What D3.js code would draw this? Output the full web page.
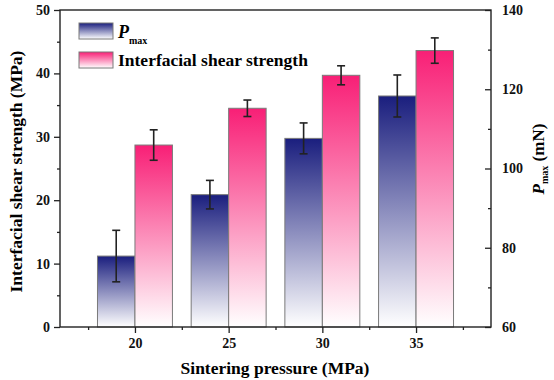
<!DOCTYPE html>
<html>
<head>
<meta charset="utf-8">
<script src="https://cdn.jsdelivr.net/npm/d3@7"></script>
<style>
  body { margin: 0; background: #fff; }
  text { font-family: "Liberation Serif", "Times New Roman", serif; font-weight: bold; }
</style>
</head>
<body>
<svg id="chart" width="554" height="380"></svg>
<script>
// DATA
const pressures = [20, 25, 30, 35];
const shearStrength = [28.7, 34.5, 39.7, 43.6];
const shearErr = [2.4, 1.3, 1.5, 2.0];
const pMax = [77.9, 93.4, 107.6, 118.3];
const pMaxErr = [6.5, 3.6, 3.9, 5.3];
const leftTicks = [0, 10, 20, 30, 40, 50];
const rightTicks = [60, 80, 100, 120, 140];
const xTicks = [20, 25, 30, 35];

const margin = { left: 60, right: 63, top: 10, bottom: 53 };
const W = 554, H = 380;
const svg = d3.select("#chart");

// SCALES
const x = d3.scaleLinear().domain([16, 39]).range([margin.left, W - margin.right]);
const yL = d3.scaleLinear().domain([0, 50]).range([H - margin.bottom, margin.top]);
const yR = d3.scaleLinear().domain([60, 140]).range([H - margin.bottom, margin.top]);
const barW = 2;

// GRADIENTS
const defs = svg.append("defs");
const addGrad = (id, color) => {
  const g = defs.append("linearGradient").attr("id", id)
    .attr("x1", 0).attr("y1", 0).attr("x2", 0).attr("y2", 1);
  g.append("stop").attr("offset", "0%").attr("stop-color", color);
  g.append("stop").attr("offset", "100%").attr("stop-color", "#ffffff");
};
addGrad("gradNavy", "#1a1e7e");
addGrad("gradPink", "#f81f76");

// BARS
const drawBars = (vals, scale, x0, x1, grad) => {
  svg.append("g").selectAll("rect").data(pressures).join("rect")
    .attr("x", (d) => x(d + x0))
    .attr("width", (d) => x(d + x1) - x(d + x0))
    .attr("y", (d, i) => scale(vals[i]))
    .attr("height", (d, i) => scale.range()[0] - scale(vals[i]))
    .attr("fill", `url(#${grad})`)
    .attr("stroke", "#7a7a7a")
    .attr("stroke-width", 1);
};
drawBars(pMax, yR, -barW, 0, "gradNavy");
drawBars(shearStrength, yL, 0, barW, "gradPink");

// ERROR BARS
const drawErr = (vals, errs, scale, off) => {
  const g = svg.append("g").attr("stroke", "#222").attr("stroke-width", 1.6);
  pressures.forEach((p, i) => {
    const cx = x(p + off);
    const top = scale(vals[i] + errs[i]);
    const bot = scale(vals[i] - errs[i]);
    g.append("line").attr("x1", cx).attr("x2", cx).attr("y1", top).attr("y2", bot);
    g.append("line").attr("x1", cx - 4).attr("x2", cx + 4).attr("y1", top).attr("y2", top);
    g.append("line").attr("x1", cx - 4).attr("x2", cx + 4).attr("y1", bot).attr("y2", bot);
  });
};
drawErr(pMax, pMaxErr, yR, -barW / 2);
drawErr(shearStrength, shearErr, yL, barW / 2);

// AXES
const styleAxis = (g) => {
  g.selectAll(".domain").remove();
  g.selectAll("line").attr("stroke", "#222").attr("stroke-width", 1.3);
  g.selectAll("text").attr("font-size", 14).attr("fill", "#111");
};
const bottom = H - margin.bottom;
svg.append("g").attr("transform", `translate(0,${bottom})`)
  .call(d3.axisBottom(x).tickValues(xTicks).tickSize(6).tickPadding(5).tickFormat(d3.format("d")))
  .call(styleAxis);
svg.append("g").attr("transform", `translate(0,${bottom})`)
  .call(d3.axisBottom(x).tickValues([17.5, 22.5, 27.5, 32.5, 37.5]).tickSize(3).tickFormat(""))
  .call(styleAxis);

svg.append("g").attr("transform", `translate(${margin.left},0)`)
  .call(d3.axisLeft(yL).tickValues(leftTicks).tickSize(6).tickPadding(4))
  .call(styleAxis);
svg.append("g").attr("transform", `translate(${margin.left},0)`)
  .call(d3.axisLeft(yL).tickValues([5, 15, 25, 35, 45]).tickSize(3).tickFormat(""))
  .call(styleAxis);

const rx = W - margin.right;
svg.append("g").attr("transform", `translate(${rx},0)`)
  .call(d3.axisRight(yR).tickValues(rightTicks).tickSize(-6).tickPadding(11))
  .call(styleAxis);
svg.append("g").attr("transform", `translate(${rx},0)`)
  .call(d3.axisRight(yR).tickValues([70, 90, 110, 130]).tickSize(-3).tickFormat(""))
  .call(styleAxis);

// FRAME
svg.append("rect")
  .attr("x", margin.left).attr("y", margin.top)
  .attr("width", rx - margin.left).attr("height", bottom - margin.top)
  .attr("fill", "none").attr("stroke", "#222").attr("stroke-width", 1.4);

// AXIS TITLES
svg.append("text").attr("x", 275).attr("y", 374)
  .attr("text-anchor", "middle").attr("font-size", 17.5).text("Sintering pressure (MPa)");

svg.append("text").attr("transform", `translate(22,${(margin.top + bottom) / 2 + 3}) rotate(-90)`)
  .attr("text-anchor", "middle").attr("font-size", 17.5).text("Interfacial shear strength (MPa)");

const rt = svg.append("text").attr("transform", "translate(544,159) rotate(-90)")
  .attr("text-anchor", "middle").attr("font-size", 17);
rt.append("tspan").attr("font-style", "italic").text("P");
rt.append("tspan").attr("font-size", 10).attr("dy", 4).text("max");
rt.append("tspan").attr("dy", -4).text(" (mN)");

// LEGEND
const legend = svg.append("g");
const legItems = [
  { grad: "gradNavy", y: 23 },
  { grad: "gradPink", y: 52 }
];
legend.selectAll("rect").data(legItems).join("rect")
  .attr("x", 79).attr("y", (d) => d.y).attr("width", 34).attr("height", 16)
  .attr("fill", (d) => `url(#${d.grad})`).attr("stroke", "#7a7a7a");
const l1 = legend.append("text").attr("x", 118).attr("y", 38).attr("font-size", 18);
l1.append("tspan").attr("font-style", "italic").text("P");
l1.append("tspan").attr("font-size", 10).attr("dy", 6).text("max");
legend.append("text").attr("x", 118).attr("y", 66).attr("font-size", 17.5)
  .text("Interfacial shear strength");
</script>
</body>
</html>
